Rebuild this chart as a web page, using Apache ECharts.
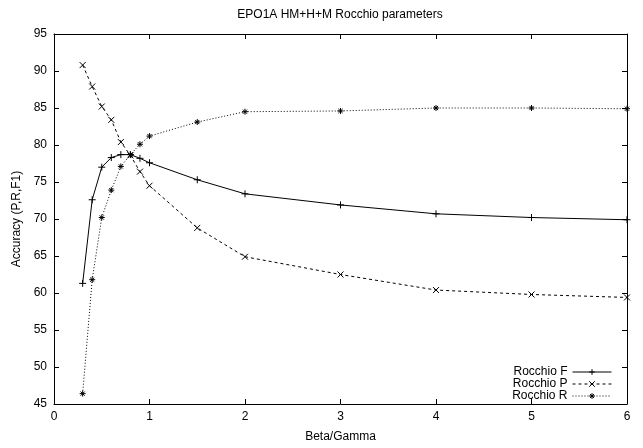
<!DOCTYPE html>
<html>
<head>
<meta charset="utf-8">
<script src="https://cdn.jsdelivr.net/npm/echarts@6/dist/echarts.min.js"></script>
<style>
  html, body { margin: 0; padding: 0; background: #fff; }
  #chart { width: 643px; height: 448px; }
</style>
</head>
<body>
<div id="chart"></div>
<script>
// beta/gamma values
const betaGamma = [0.3, 0.4, 0.5, 0.6, 0.7, 0.8, 0.9, 1, 1.5, 2, 3, 4, 5, 6]
const rocchioF = [61.3, 72.6, 77.0, 78.3, 78.7, 78.7, 78.2, 77.6, 75.3, 73.4, 71.9, 70.7, 70.2, 69.9]
const rocchioP = [90.8, 87.9, 85.2, 83.4, 80.4, 78.6, 76.4, 74.5, 68.8, 64.9, 62.5, 60.4, 59.8, 59.4]
const rocchioR = [46.4, 61.8, 70.2, 73.9, 77.1, 78.7, 80.1, 81.2, 83.1, 84.5, 84.6, 85.0, 85.0, 84.9]
const seriesNames = ['Rocchio F', 'Rocchio P', 'Rocchio R']

const plusSym = 'path://M0,5L10,5M5,0L5,10'
const crossSym = 'path://M0,0L10,10M10,0L0,10'
const starSym = 'path://M0,5L10,5M5,0L5,10M1.5,1.5L8.5,8.5M8.5,1.5L1.5,8.5'

const font = 'Liberation Sans, Arial, sans-serif'

function pairs(ys) {
  return betaGamma.map((x, i) => [x, ys[i]])
}

function makeSeries(name, ys, symbol, size, lineType) {
  return {
    name: name,
    type: 'line',
    data: pairs(ys),
    symbol: symbol,
    symbolSize: size,
    showAllSymbol: true,
    animation: false,
    lineStyle: { color: '#000', width: 1, type: lineType },
    itemStyle: { color: '#000', borderColor: '#000', borderWidth: 1 }
  }
}

// one legend per row so the icons line up on the right like gnuplot's key
function makeLegend(name, i) {
  return {
    orient: 'vertical',
    right: 31,
    top: 366 + i * 12,
    padding: 0,
    align: 'right',
    itemWidth: 39,
    itemHeight: 7,
    lineStyle: { width: 1 },
    itemStyle: { borderWidth: 1 },
    textStyle: { fontFamily: font, fontSize: 12, lineHeight: 12, color: '#000' },
    data: [name]
  }
}

const chart = echarts.init(document.getElementById('chart'))

const tickStyle = {
  show: true,
  inside: true,
  length: 5,
  lineStyle: { color: '#000', width: 1 }
}
const lineStyle = { show: true, onZero: false, lineStyle: { color: '#000', width: 1 } }

chart.setOption({
  backgroundColor: '#fff',
  animation: false,
  title: {
    text: 'EPO1A HM+H+M Rocchio parameters',
    left: 340,
    textAlign: 'center',
    top: 9,
    padding: 0,
    textStyle: { fontFamily: font, fontSize: 12, fontWeight: 'normal', color: '#000' }
  },
  legend: seriesNames.map(makeLegend),
  grid: { left: 54, right: 16, top: 34, bottom: 41 },
  xAxis: [
    {
      type: 'value',
      min: 0,
      max: 6,
      interval: 1,
      name: 'Beta/Gamma',
      nameLocation: 'middle',
      nameGap: 27,
      nameTextStyle: { fontFamily: font, fontSize: 12, color: '#000' },
      axisLine: lineStyle,
      axisTick: tickStyle,
      axisLabel: { fontFamily: font, fontSize: 12, color: '#000', margin: 7 },
      splitLine: { show: false }
    },
    {
      type: 'value',
      position: 'top',
      min: 0,
      max: 6,
      interval: 1,
      axisLine: lineStyle,
      axisTick: tickStyle,
      axisLabel: { show: false },
      splitLine: { show: false }
    }
  ],
  yAxis: [
    {
      type: 'value',
      min: 45,
      max: 95,
      interval: 5,
      name: 'Accuracy (P,R,F1)',
      nameLocation: 'middle',
      nameGap: 30,
      nameTextStyle: { fontFamily: font, fontSize: 12, color: '#000' },
      axisLine: lineStyle,
      axisTick: tickStyle,
      axisLabel: { fontFamily: font, fontSize: 12, color: '#000', margin: 7 },
      splitLine: { show: false }
    },
    {
      type: 'value',
      position: 'right',
      min: 45,
      max: 95,
      interval: 5,
      axisLine: lineStyle,
      axisTick: tickStyle,
      axisLabel: { show: false },
      splitLine: { show: false }
    }
  ],
  series: [
    makeSeries(seriesNames[0], rocchioF, plusSym, 7, 'solid'),
    makeSeries(seriesNames[1], rocchioP, crossSym, 6, [3, 3]),
    makeSeries(seriesNames[2], rocchioR, starSym, 6, [1, 2])
  ]
})
</script>
</body>
</html>
